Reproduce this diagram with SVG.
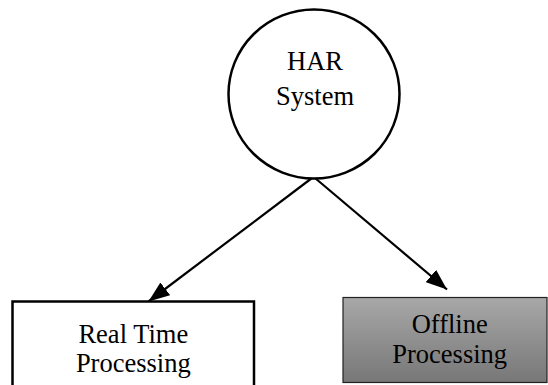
<svg xmlns="http://www.w3.org/2000/svg" width="548" height="385" viewBox="0 0 548 385">
<style>
.lbl{font-family:"Liberation Serif","Times New Roman",serif;font-size:26.5px;fill:#000;text-anchor:middle}
.edge{stroke:#000;stroke-width:2.2;fill:none}
</style>
<defs>
<marker id="arr" markerUnits="userSpaceOnUse" markerWidth="22" markerHeight="16" refX="21" refY="8" orient="auto">
<path d="M0,0 L21,8 L0,16 z" fill="#000"/>
</marker>
<linearGradient id="gray" x1="0" y1="0" x2="0" y2="1">
<stop offset="0" stop-color="#a8a8a8"/>
<stop offset="1" stop-color="#777777"/>
</linearGradient>
</defs>
<rect width="548" height="385" fill="#fff"/>
<g id="connectors">
<line class="edge" x1="312" y1="178" x2="148.5" y2="301.5" marker-end="url(#arr)"/>
<line class="edge" x1="315" y1="178" x2="447" y2="289.5" marker-end="url(#arr)"/>
</g>
<g id="har-system">
<ellipse cx="314" cy="94" rx="85.5" ry="84.5" fill="#fff" stroke="#000" stroke-width="2.5"/>
<text class="lbl" x="315" y="70">HAR</text>
<text class="lbl" x="315" y="105">System</text>
</g>
<g id="real-time">
<path d="M12.5,386 V301.5 H254 V386" fill="#fff" stroke="#000" stroke-width="2.5"/>
<text class="lbl" x="133.3" y="342.5">Real Time</text>
<text class="lbl" x="133.3" y="372">Processing</text>
</g>
<g id="offline">
<rect x="343" y="297.5" width="204" height="85" fill="url(#gray)" stroke="#222" stroke-width="1.2"/>
<text class="lbl" x="449.7" y="332.7">Offline</text>
<text class="lbl" x="449.7" y="362.7">Processing</text>
</g>
</svg>
